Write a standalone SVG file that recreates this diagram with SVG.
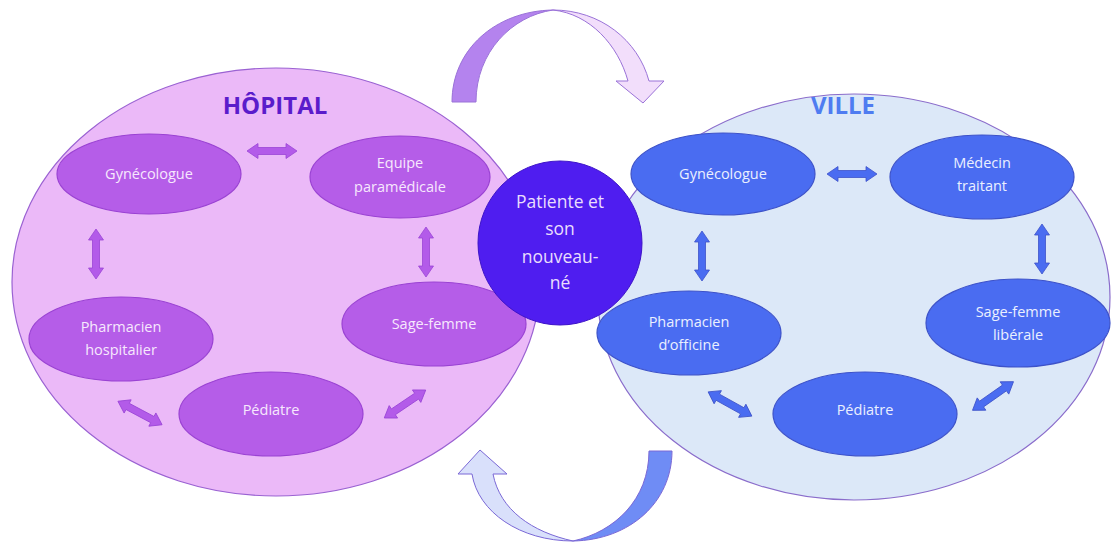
<svg xmlns="http://www.w3.org/2000/svg" xmlns:xlink="http://www.w3.org/1999/xlink" width="1112" height="544" viewBox="0 0 1112 544">
<defs>
<style>
.big-l{fill:#EBB9F8;stroke:#9A62D2;stroke-width:1.2}
.big-r{fill:#DCE8F8;stroke:#8A6CCB;stroke-width:1.2}
.nl{fill:#B55DE8;stroke:#9A42D3;stroke-width:1.2}
.nr{fill:#4A6CF1;stroke:#3D52C9;stroke-width:1.2}
.t{font-family:"Open Sans","Noto Sans",sans-serif;font-size:14.5px;text-anchor:middle}
.tl{fill:#F7E8FD}
.tr{fill:#EAF0FF}
.title{font-family:"Open Sans","Noto Sans",sans-serif;font-size:24px;font-weight:bold;text-anchor:middle}
.ct{font-family:"Open Sans","Noto Sans",sans-serif;font-size:17.5px;fill:#E9DDFD;text-anchor:middle}
.al{fill:#B35BE9;stroke:#9A45D6;stroke-width:0.8}
.ar{fill:#4A6CF1;stroke:#3D52C9;stroke-width:0.8}
</style>
<path id="dbl" d="M-25,0 L-14,-7.5 L-14,-3.5 L14,-3.5 L14,-7.5 L25,0 L14,7.5 L14,3.5 L-14,3.5 L-14,7.5 Z"/>
</defs>
<rect width="1112" height="544" fill="#FFFFFF"/>

<g id="hopital">
<ellipse class="big-l" cx="276" cy="282" rx="264" ry="214"/>
<text class="title" x="275" y="114" fill="#5A1CCB">HÔPITAL</text>
</g>
<g id="ville">
<ellipse class="big-r" cx="854" cy="297" rx="256" ry="203"/>
<text class="title" x="843" y="114" fill="#4F7CF1">VILLE</text>
</g>

<g id="curved-arrows">
<g id="arrow-top" stroke="#9A72D8" stroke-width="1" stroke-linejoin="round">
<path d="M452,102 C452,50 495,11 553,10 C512,16 476,52 476,102 Z" fill="#B483EE"/>
<path d="M553,10 C600,10 638,40 649,81 L664,81 L643,103 L616,81 L628,81 C618,45 590,14 553,10 Z" fill="#F2DEFB"/>
</g>
<g id="arrow-bottom" stroke="#7A68D6" stroke-width="1" stroke-linejoin="round">
<path d="M649,451 L672,451 C672,502 630,540 573,541 C614,532 649,500 649,451 Z" fill="#6F8CF5"/>
<path d="M573,541 C520,541 478,512 472,474 L458,474 L480,450 L507,474 L493,474 C500,510 532,532 573,541 Z" fill="#D9E0FB"/>
</g>
</g>

<g id="connectors">
<use xlink:href="#dbl" class="al" transform="translate(272,151)"/>
<use xlink:href="#dbl" class="al" transform="translate(96,254) rotate(90)"/>
<use xlink:href="#dbl" class="al" transform="translate(426,252) rotate(90)"/>
<use xlink:href="#dbl" class="al" transform="translate(140,413) rotate(28)"/>
<use xlink:href="#dbl" class="al" transform="translate(405,404) rotate(-34)"/>
<use xlink:href="#dbl" class="ar" transform="translate(852,174)"/>
<use xlink:href="#dbl" class="ar" transform="translate(702,256) rotate(90)"/>
<use xlink:href="#dbl" class="ar" transform="translate(1042,249) rotate(90)"/>
<use xlink:href="#dbl" class="ar" transform="translate(730,404) rotate(29)"/>
<use xlink:href="#dbl" class="ar" transform="translate(993,396) rotate(-35)"/>
</g>

<g id="h-gynecologue">
<ellipse class="nl" cx="149" cy="174" rx="92" ry="40"/>
<text class="t tl" x="149" y="179">Gynécologue</text>
</g>
<g id="h-equipe">
<ellipse class="nl" cx="400" cy="177" rx="90" ry="41"/>
<text class="t tl" x="400" y="168">Equipe</text>
<text class="t tl" x="400" y="192">paramédicale</text>
</g>
<g id="h-pharmacien">
<ellipse class="nl" cx="121" cy="339" rx="92" ry="42"/>
<text class="t tl" x="121" y="332">Pharmacien</text>
<text class="t tl" x="121" y="355">hospitalier</text>
</g>
<g id="h-sagefemme">
<ellipse class="nl" cx="434" cy="324" rx="92" ry="42"/>
<text class="t tl" x="434" y="329">Sage-femme</text>
</g>
<g id="h-pediatre">
<ellipse class="nl" cx="271" cy="414" rx="92" ry="42"/>
<text class="t tl" x="271" y="415">Pédiatre</text>
</g>

<g id="v-gynecologue">
<ellipse class="nr" cx="723" cy="174" rx="92" ry="41"/>
<text class="t tr" x="723" y="179">Gynécologue</text>
</g>
<g id="v-medecin">
<ellipse class="nr" cx="982" cy="177" rx="92" ry="42"/>
<text class="t tr" x="982" y="168">Médecin</text>
<text class="t tr" x="982" y="191">traitant</text>
</g>
<g id="v-pharmacien">
<ellipse class="nr" cx="689" cy="333" rx="92" ry="42"/>
<text class="t tr" x="689" y="327">Pharmacien</text>
<text class="t tr" x="689" y="350">d’officine</text>
</g>
<g id="v-sagefemme">
<ellipse class="nr" cx="1018" cy="323" rx="92" ry="44"/>
<text class="t tr" x="1018" y="317">Sage-femme</text>
<text class="t tr" x="1018" y="340">libérale</text>
</g>
<g id="v-pediatre">
<ellipse class="nr" cx="865" cy="414" rx="92" ry="42"/>
<text class="t tr" x="865" y="415">Pédiatre</text>
</g>

<g id="patiente">
<circle cx="560" cy="243" r="82" fill="#4F1DF0" stroke="#3E14C8" stroke-width="1"/>
<text class="ct" x="560" y="208">Patiente et</text>
<text class="ct" x="560" y="235">son</text>
<text class="ct" x="560" y="263">nouveau-</text>
<text class="ct" x="560" y="289">né</text>
</g>
</svg>
